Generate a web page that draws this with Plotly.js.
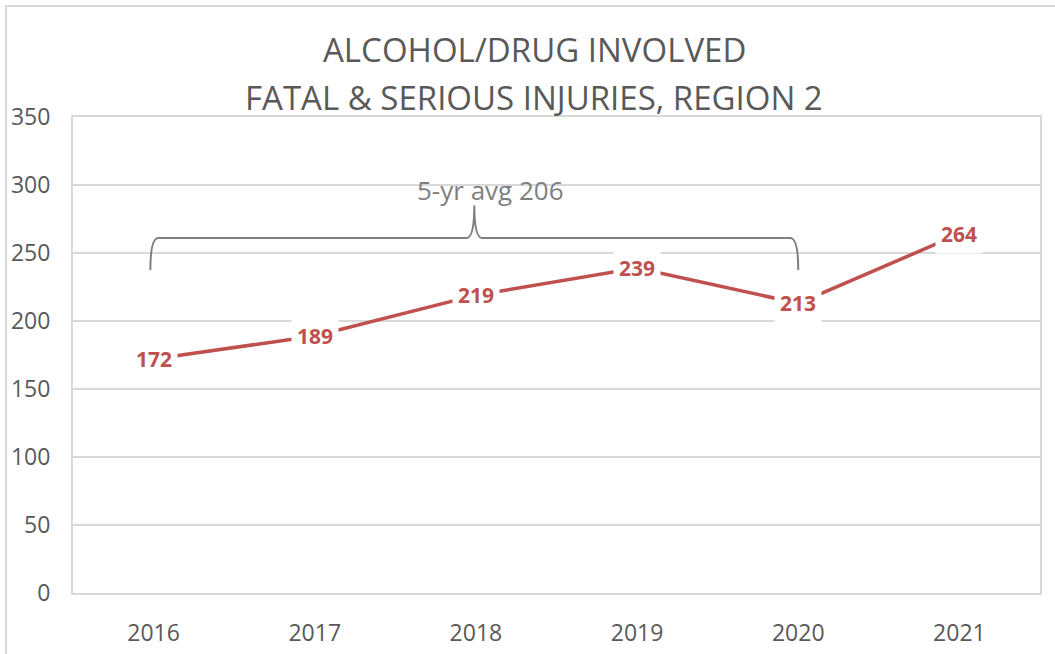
<!DOCTYPE html>
<html>
<head>
<meta charset="utf-8">
<script src="https://cdn.plot.ly/plotly-3.0.1.min.js"></script>
<style>
  html, body { margin: 0; padding: 0; background: #fff; overflow: hidden; }
  #frame { position: absolute; left: 5px; top: 5px; width: 1200px; height: 800px; border: 2px solid #d9d9d9; box-sizing: border-box; }
  #chart { position: absolute; left: 0; top: 0; width: 1055px; height: 654px; }
</style>
</head>
<body>
<div id="frame"></div>
<div id="chart"></div>
<script>
// Data
const years = [2016, 2017, 2018, 2019, 2020, 2021];
const injuries = [172, 189, 219, 239, 213, 264];
const yTicks = [0, 50, 100, 150, 200, 250, 300, 350];
const titleLines = ["ALCOHOL/DRUG INVOLVED", "FATAL &amp; SERIOUS INJURIES, REGION 2"];
const avgLabel = "5-yr avg 206";
const avgYears = [2016, 2020];

const red = "#c0504d";
const grey = "#595959";
const FONT = "Open Sans, sans-serif";

const trace = {
  x: years,
  y: injuries,
  type: "scatter",
  mode: "lines",
  line: { color: red, width: 3.5 },
  hoverinfo: "skip",
  showlegend: false
};

const labelAnns = years.map((yr, i) => ({
  x: yr, y: injuries[i], xref: "x", yref: "y",
  text: "<b>" + injuries[i] + "</b>",
  showarrow: false,
  font: { family: FONT, size: 21, color: red },
  bgcolor: "#ffffff",
  borderpad: 5,
  xanchor: "center", yanchor: "middle"
}));

// brace geometry (in data units)
const bx0 = avgYears[0] - 0.02, bx1 = avgYears[1];
const bmid = (bx0 + bx1) / 2;
const yTop = 261, yBot = 237.5, ySpike = 285;
const dx = 0.05;
const bracePath =
  `M ${bx0},${yBot} Q ${bx0},${yTop} ${bx0 + dx},${yTop} ` +
  `L ${bmid - dx},${yTop} Q ${bmid},${yTop} ${bmid},${ySpike} ` +
  `Q ${bmid},${yTop} ${bmid + dx},${yTop} ` +
  `L ${bx1 - dx},${yTop} Q ${bx1},${yTop} ${bx1},${yBot}`;

const layout = {
  width: 1055, height: 654,
  margin: { l: 73, r: 15, t: 117, b: 61 },
  paper_bgcolor: "rgba(0,0,0,0)",
  plot_bgcolor: "#ffffff",
  font: { family: FONT, color: grey },
  xaxis: {
    type: "linear",
    range: [years[0] - 0.5, years[years.length - 1] + 0.5],
    tickvals: years,
    ticktext: years.map(String),
    showgrid: false, zeroline: false,
    showline: true, linecolor: "#d9d9d9", linewidth: 2, mirror: true,
    ticks: "", ticklabelstandoff: 18,
    tickfont: { family: FONT, size: 23, color: grey }
  },
  yaxis: {
    range: [0, 350],
    tickvals: yTicks,
    showgrid: true, gridcolor: "#d9d9d9", gridwidth: 2,
    zeroline: false,
    showline: true, linecolor: "#d9d9d9", linewidth: 2, mirror: true,
    ticks: "", ticklabelstandoff: 16,
    tickfont: { family: FONT, size: 23, color: grey }
  },
  shapes: [{
    type: "path", xref: "x", yref: "y", path: bracePath,
    line: { color: "#7f7f7f", width: 2 }
  }],
  annotations: [
    { xref: "paper", yref: "paper", x: 0.477, y: 1.141, text: titleLines[0], showarrow: false,
      xanchor: "center", yanchor: "middle", font: { family: FONT, size: 33, color: grey } },
    { xref: "paper", yref: "paper", x: 0.477, y: 1.040, text: titleLines[1], showarrow: false,
      xanchor: "center", yanchor: "middle", font: { family: FONT, size: 33, color: grey } },
    { xref: "x", yref: "y", x: bmid + 0.1, y: 296, text: avgLabel, showarrow: false,
      xanchor: "center", yanchor: "middle", font: { family: FONT, size: 26, color: "#7f7f7f" } },
    ...labelAnns
  ]
};

Plotly.newPlot("chart", [trace], layout, { displayModeBar: false, staticPlot: true });
</script>
</body>
</html>
